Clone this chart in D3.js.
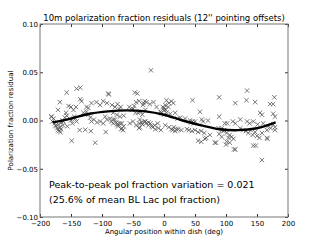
<!DOCTYPE html>
<html><head><meta charset="utf-8">
<script src="https://cdn.jsdelivr.net/npm/d3@7"></script>
<style>body{margin:0;background:#fff}svg{display:block}text{font-family:"DejaVu Sans",sans-serif}</style>
</head><body>
<script>
const title = "10m polarization fraction residuals (12'' pointing offsets)";
const xLabel = "Angular position within dish (deg)";
const yLabel = "Polarization fraction residual";
const note1 = "Peak-to-peak pol fraction variation = 0.021";
const note2 = "(25.6% of mean BL Lac pol fraction)";
const xTicks = [-200,-150,-100,-50,0,50,100,150,200];
const yTicks = [-0.10,-0.05,0.00,0.05,0.10];
// fitted curve samples
const fitAngle = [-180,-150,-120,-90,-60,-30,0,30,60,90,120,150,180];
const fitValue = [-0.002,0.002,0.007,0.0095,0.0105,0.0095,0.006,0.000,-0.005,-0.009,-0.010,-0.008,-0.002];
// residual points [angle, value]
const resAngle = [
-181,-171,-168,-182,-180,-178,-176,-175,-174,-172,-171,-170,-169,-168,-167,-166,-165,-164,-163,-162,-160,-158,-157,-156,-154,-152,-150,-149,-148,-157,-146,-145,-143,-141,
-141,-135,-135,-133,-150,-142,-125,-122,-117,-109,-130,-125,-119,-117,-113,-108,-103,-98,-122,-136,-127,-118,-111,
-90,-89,-103,-98,-92,-84,-79,-75,-72,-70,-82,-76,-71,-65,-82,-77,-74,-68,-65,-69,
-95,-92,-87,-85,-82,-79,-76,-74,-71,-68,-66,-94,
-47,-43,-45,-40,-48,-31,-34,-23,-33,-28,-17,-12,
-56,-52,-50,-46,-42,-38,-35,-30,-55,-50,-45,-40,-35,-30,-25,-20,-15,-10,-39,-36,-32,-29,-25,-22,-18,-14,-9,-5,-40,-39,
-21,-2,0,-6,-4,
4,8,12,15,2,0,3,7,-4,0,4,10,18,46,58,89,89,42,44,46,48,50,34,22,26,61,63,71,
2,8,12,16,20,14,18,23,28,37,45,50,55,60,65,74,68,60,40,82,88,93,96,89,93,55,66,
134,133,115,147,178,171,176,155,158,176,179,
98,102,111,115,123,134,138,144,151,160,168,176,179,179,
93,97,101,106,104,109,101,106,100,112,115,
123,128,132,136,140,143,147,150,154,158,166,172,144,148,166,158,167,113,84
];
const resValue = [
0.004,0.011,0.019,0.004,-0.001,0.002,-0.003,-0.005,-0.006,-0.008,-0.010,-0.004,-0.011,-0.007,-0.012,-0.009,-0.002,0.000,-0.005,-0.001,0.003,0.008,0.005,-0.006,0.015,0.002,0.000,-0.021,-0.003,0.029,0.011,0.004,0.002,-0.001,
0.033,0.034,0.022,0.020,0.014,0.014,0.014,0.013,0.018,0.019,0.008,0.009,0.003,-0.001,0.001,-0.002,-0.001,-0.003,0.006,-0.010,-0.0096,-0.011,-0.023,
0.028,0.027,0.016,0.020,0.018,0.016,0.014,0.017,0.012,0.014,0.008,0.006,0.004,0.005,0.001,-0.002,-0.004,-0.003,-0.006,-0.009,
0.004,0.001,0.002,-0.001,-0.003,0.001,-0.004,-0.006,-0.003,-0.008,-0.010,-0.012,
0.029,0.028,0.019,0.020,0.015,0.020,0.016,0.017,0.018,0.019,0.019,0.014,
0.014,0.011,0.012,0.008,0.008,0.009,0.006,0.011,-0.003,-0.001,-0.005,-0.003,-0.004,-0.001,-0.002,-0.006,-0.005,-0.003,0.001,-0.002,-0.001,-0.003,-0.005,-0.003,-0.007,-0.009,-0.008,-0.010,-0.008,-0.007,
0.052,0.014,0.011,0.009,0.008,
0.021,0.018,0.020,0.018,0.016,0.013,0.011,0.014,0.008,0.006,0.008,0.007,0.008,0.021,0.009,0.024,0.004,0.000,-0.002,-0.001,-0.003,-0.001,0.002,0.002,0.003,0.001,-0.001,0.000,
-0.005,-0.007,-0.009,-0.007,-0.009,-0.010,-0.011,-0.009,-0.010,-0.009,-0.011,-0.010,-0.012,-0.011,-0.013,-0.015,-0.018,-0.022,-0.010,-0.023,-0.008,-0.010,-0.011,-0.014,-0.017,-0.021,-0.019,
0.031,0.021,0.018,0.019,0.024,0.017,0.017,0.008,0.006,0.007,0.004,
-0.003,-0.003,-0.001,-0.003,0.001,-0.001,-0.003,-0.001,-0.004,-0.003,-0.006,-0.004,-0.007,-0.010,
-0.008,-0.010,-0.013,-0.015,-0.018,-0.017,-0.022,-0.023,-0.025,-0.019,-0.030,
-0.008,-0.010,-0.011,-0.013,-0.010,-0.015,-0.012,-0.016,-0.018,-0.013,-0.010,-0.008,-0.026,-0.026,-0.018,-0.041,-0.019,-0.030,-0.023
];

const W = 320, H = 240;
const m = {l:40, r:288, t:24, b:217};
const svg = d3.select("body").append("svg").attr("width",W).attr("height",H);
const x = d3.scaleLinear().domain([-200,200]).range([m.l, m.r]);
const y = d3.scaleLinear().domain([-0.10,0.10]).range([m.b, m.t]);
const fmtY = d => d3.format(".2f")(d).replace("-", "\u2212");
const fmtX = d => String(d).replace("-", "\u2212");

// points
const pts = resAngle.map((a,i)=>[a,resValue[i]]);
const s = 2.2;
const g = svg.append("g").attr("stroke","#555").attr("stroke-width",0.8).attr("fill","none");
g.selectAll("path").data(pts).join("path")
  .attr("d", d => {const px=x(d[0]), py=y(d[1]); return `M${px-s},${py-s}L${px+s},${py+s}M${px-s},${py+s}L${px+s},${py-s}`;});

// fit curve
const fit = fitAngle.map((a,i)=>[a,fitValue[i]]);
svg.append("path").datum(fit)
  .attr("d", d3.line().x(d=>x(d[0])).y(d=>y(d[1])).curve(d3.curveCatmullRom))
  .attr("fill","none").attr("stroke","#000").attr("stroke-width",2.4);

// axes
const tickStyle = (sel) => { sel.select(".domain").remove(); sel.selectAll("line").attr("stroke","#333"); sel.selectAll("text").attr("fill","#000").style("font-size","7px").style("font-family","DejaVu Sans"); };
svg.append("g").attr("transform",`translate(0,${m.b})`)
  .call(d3.axisBottom(x).tickValues(xTicks).tickFormat(fmtX).tickSizeInner(-3).tickSizeOuter(0).tickPadding(4)).call(tickStyle);
svg.append("g").attr("transform",`translate(0,${m.t})`)
  .call(d3.axisTop(x).tickValues(xTicks).tickFormat("").tickSizeInner(-3).tickSizeOuter(0)).call(tickStyle);
svg.append("g").attr("transform",`translate(${m.l},0)`)
  .call(d3.axisLeft(y).tickValues(yTicks).tickFormat(fmtY).tickSizeInner(-3).tickSizeOuter(0).tickPadding(2)).call(tickStyle);
svg.append("g").attr("transform",`translate(${m.r},0)`)
  .call(d3.axisRight(y).tickValues(yTicks).tickFormat("").tickSizeInner(-3).tickSizeOuter(0)).call(tickStyle);

svg.append("rect").attr("x",m.l).attr("y",m.t).attr("width",m.r-m.l).attr("height",m.b-m.t)
  .attr("fill","none").attr("stroke","#777").attr("stroke-width",1);

svg.append("text").attr("x",(m.l+m.r)/2).attr("y",21).attr("text-anchor","middle").style("font-size","8.5px").text(title);
svg.append("text").attr("x",(m.l+m.r)/2).attr("y",234).attr("text-anchor","middle").style("font-size","7px").text(xLabel);
svg.append("text").attr("transform",`translate(13,${(m.t+m.b)/2}) rotate(-90)`).attr("text-anchor","middle").style("font-size","7px").text(yLabel);
svg.append("text").attr("x",49).attr("y",188).style("font-size","9.5px").text(note1);
svg.append("text").attr("x",49).attr("y",203).style("font-size","9.5px").text(note2);
</script>
</body></html>
